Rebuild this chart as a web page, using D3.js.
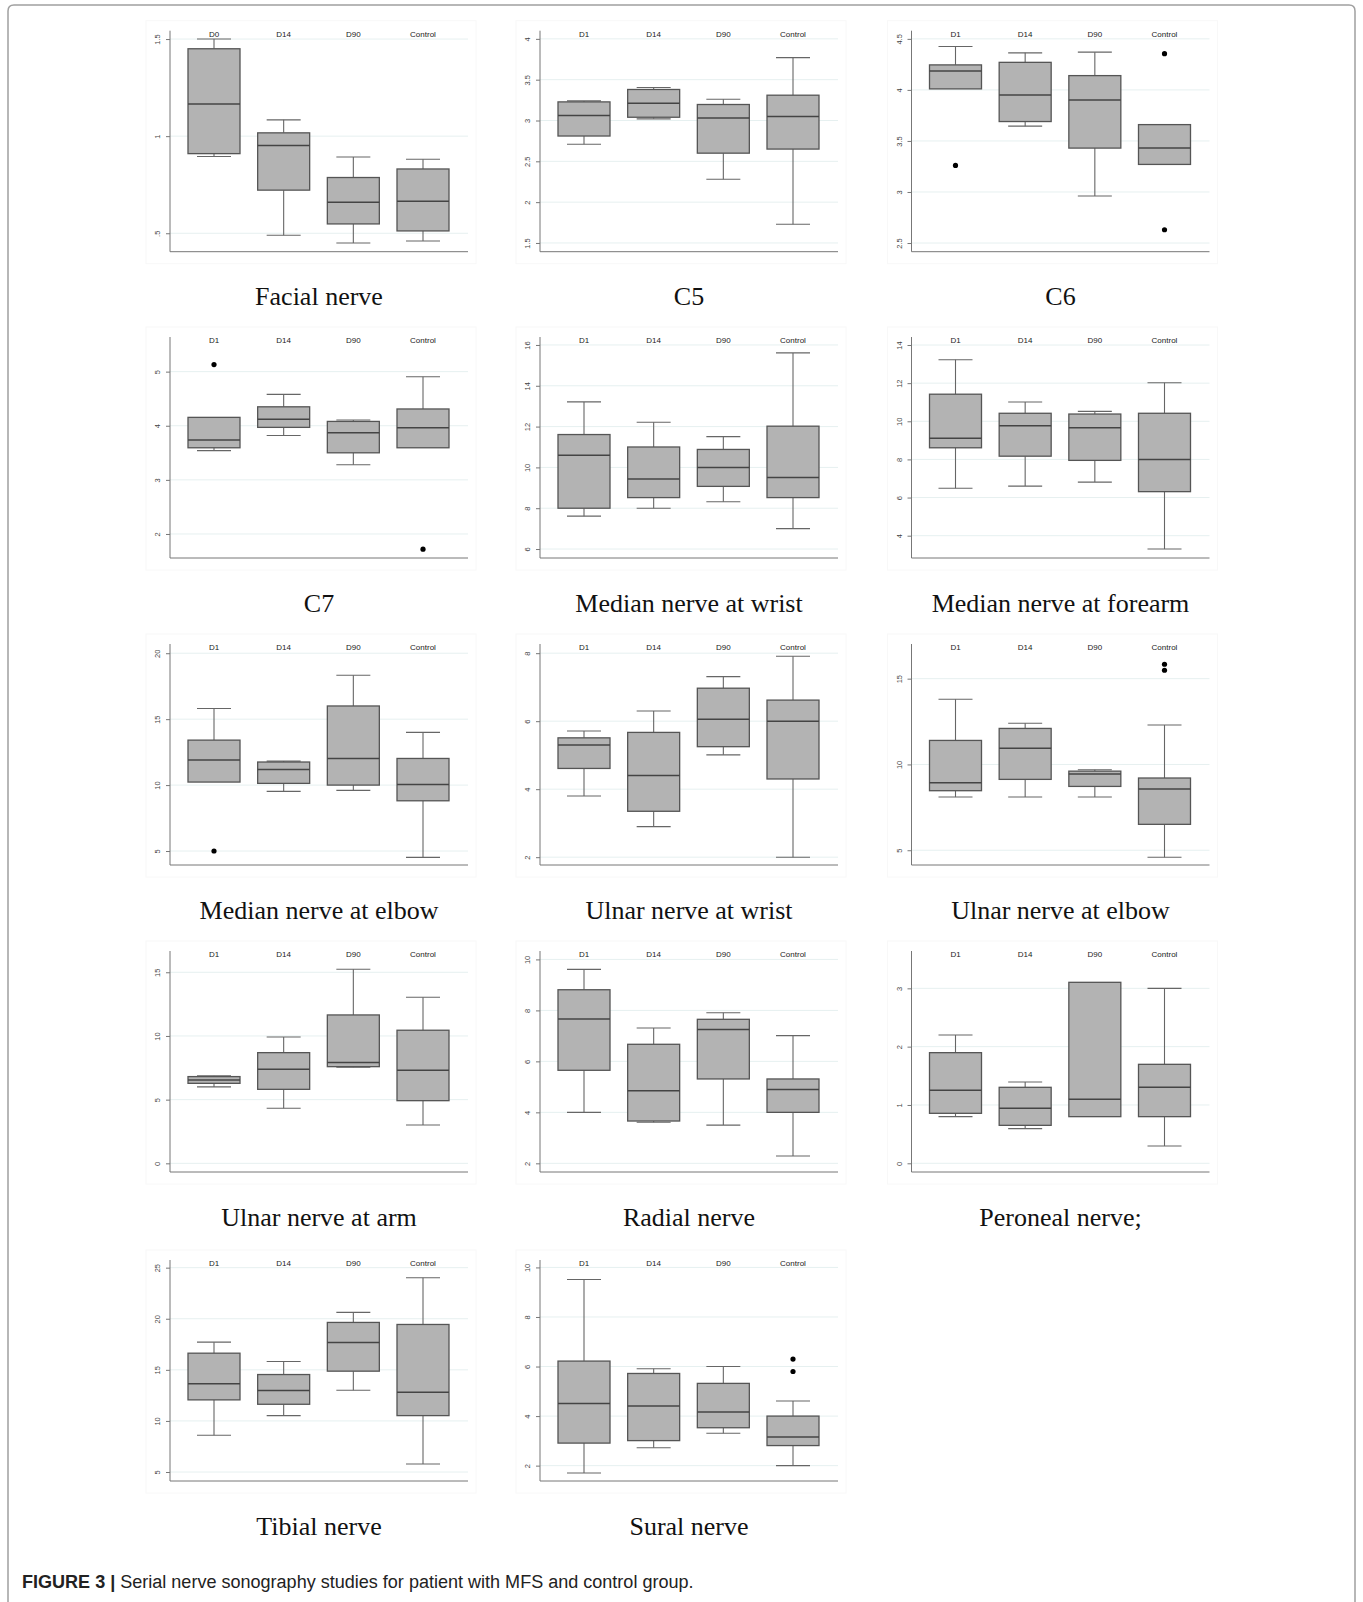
<!DOCTYPE html>
<html>
<head>
<meta charset="utf-8">
<script src="https://cdn.jsdelivr.net/npm/d3@7"></script>
<style>
  html, body { margin: 0; padding: 0; background: #ffffff; }
  svg { display: block; }
</style>
</head>
<body>
<svg id="chart" width="1363" height="1602"></svg>
<script>
// ---------------- DATA ----------------
// Each box: [lower whisker, Q1, median, Q3, upper whisker]
const groupsFacial = ["D0", "D14", "D90", "Control"];
const groups = ["D1", "D14", "D90", "Control"];

const panelTitles = [
  "Facial nerve", "C5", "C6",
  "C7", "Median nerve at wrist", "Median nerve at forearm",
  "Median nerve at elbow", "Ulnar nerve at wrist", "Ulnar nerve at elbow",
  "Ulnar nerve at arm", "Radial nerve", "Peroneal nerve;",
  "Tibial nerve", "Sural nerve"
];

const facialNerve = [[0.895, 0.91, 1.166, 1.45, 1.5], [0.49, 0.722, 0.952, 1.017, 1.084], [0.45, 0.548, 0.66, 0.787, 0.893], [0.46, 0.512, 0.665, 0.831, 0.881]];
const facialOutliers = [[], [], [], []];
const facialTicks = [0.5, 1, 1.5];

const c5Nerve = [[2.71, 2.81, 3.06, 3.228, 3.24], [3.02, 3.04, 3.21, 3.38, 3.405], [2.28, 2.60, 3.03, 3.196, 3.26], [1.73, 2.65, 3.05, 3.31, 3.77]];
const c5Outliers = [[], [], [], []];
const c5Ticks = [1.5, 2, 2.5, 3, 3.5, 4];

const c6Nerve = [[4.01, 4.01, 4.186, 4.245, 4.425], [3.645, 3.69, 3.95, 4.27, 4.363], [2.96, 3.43, 3.90, 4.14, 4.37], [3.27, 3.27, 3.43, 3.66, 3.66]];
const c6Outliers = [[3.26], [], [], [4.355, 2.63]];
const c6Ticks = [2.5, 3, 3.5, 4, 4.5];

const c7Nerve = [[3.54, 3.593, 3.735, 4.155, 4.155], [3.82, 3.97, 4.12, 4.35, 4.58], [3.28, 3.50, 3.87, 4.08, 4.105], [3.593, 3.593, 3.963, 4.31, 4.905]];
const c7Outliers = [[5.13], [], [], [1.72]];
const c7Ticks = [2, 3, 4, 5];

const medianWrist = [[7.61, 8.0, 10.6, 11.61, 13.21], [8.0, 8.52, 9.43, 11.0, 12.21], [8.32, 9.07, 10.0, 10.88, 11.51], [7.0, 8.52, 9.5, 12.02, 15.61]];
const medianWristOutliers = [[], [], [], []];
const medianWristTicks = [6, 8, 10, 12, 14, 16];

const medianForearm = [[6.49, 8.61, 9.11, 11.42, 13.23], [6.6, 8.17, 9.77, 10.42, 11.01], [6.81, 7.95, 9.66, 10.38, 10.52], [3.3, 6.31, 8.0, 10.42, 12.02]];
const medianForearmOutliers = [[], [], [], []];
const medianForearmTicks = [4, 6, 8, 10, 12, 14];

const medianElbow = [[10.23, 10.23, 11.9, 13.41, 15.81], [9.52, 10.13, 11.19, 11.75, 11.82], [9.6, 10.0, 12.02, 16.0, 18.33], [4.52, 8.81, 10.05, 12.02, 14.0]];
const medianElbowOutliers = [[5.0], [], [], []];
const medianElbowTicks = [5, 10, 15, 20];

const ulnarWrist = [[3.80, 4.61, 5.30, 5.51, 5.71], [2.90, 3.35, 4.40, 5.67, 6.30], [5.01, 5.25, 6.06, 6.97, 7.31], [2.0, 4.30, 6.0, 6.62, 7.91]];
const ulnarWristOutliers = [[], [], [], []];
const ulnarWristTicks = [2, 4, 6, 8];

const ulnarElbow = [[8.1, 8.47, 8.93, 11.4, 13.8], [8.1, 9.13, 10.95, 12.1, 12.4], [8.1, 8.72, 9.44, 9.61, 9.69], [4.59, 6.51, 8.57, 9.21, 12.3]];
const ulnarElbowOutliers = [[], [], [], [15.84, 15.49]];
const ulnarElbowTicks = [5, 10, 15];

const ulnarArm = [[6.0, 6.28, 6.54, 6.81, 6.88], [4.32, 5.81, 7.38, 8.69, 9.92], [7.54, 7.59, 7.91, 11.65, 15.24], [3.01, 4.92, 7.3, 10.45, 13.04]];
const ulnarArmOutliers = [[], [], [], []];
const ulnarArmTicks = [0, 5, 10, 15];

const radialNerve = [[4.0, 5.65, 7.66, 8.81, 9.61], [3.61, 3.66, 4.85, 6.67, 7.31], [3.50, 5.31, 7.25, 7.65, 7.91], [2.29, 4.0, 4.90, 5.31, 7.01]];
const radialOutliers = [[], [], [], []];
const radialTicks = [2, 4, 6, 8, 10];

const peronealNerve = [[0.8, 0.857, 1.251, 1.897, 2.2], [0.594, 0.651, 0.943, 1.303, 1.394], [0.8, 0.8, 1.097, 3.103, 3.103], [0.297, 0.8, 1.303, 1.697, 3.0]];
const peronealOutliers = [[], [], [], []];
const peronealTicks = [0, 1, 2, 3];

const tibialNerve = [[8.6, 12.06, 13.63, 16.63, 17.71], [10.52, 11.63, 12.97, 14.54, 15.82], [13.0, 14.87, 17.68, 19.64, 20.62], [5.78, 10.52, 12.81, 19.44, 24.02]];
const tibialOutliers = [[], [], [], []];
const tibialTicks = [5, 10, 15, 20, 25];

const suralNerve = [[1.70, 2.91, 4.51, 6.22, 9.51], [2.72, 3.01, 4.41, 5.72, 5.91], [3.31, 3.53, 4.16, 5.32, 6.0], [2.0, 2.81, 3.16, 4.0, 4.61]];
const suralOutliers = [[], [], [], [6.30, 5.80]];
const suralTicks = [2, 4, 6, 8, 10];

const captionBold = "FIGURE 3 |";
const captionText = " Serial nerve sonography studies for patient with MFS and control group.";

// ---------------- LAYOUT ----------------
const colX = [170, 540, 911.5];            // y-axis x position per column
const rowBottom = [251.7, 558, 865, 1172, 1481]; // x-axis y position per row
const plotW = 298, plotH = 221;

const panels = [
  { stats: facialNerve, out: facialOutliers, ticks: facialTicks, cats: groupsFacial, domain: [0.405, 1.543] },
  { stats: c5Nerve, out: c5Outliers, ticks: c5Ticks, cats: groups, domain: [1.393, 4.10] },
  { stats: c6Nerve, out: c6Outliers, ticks: c6Ticks, cats: groups, domain: [2.415, 4.58] },
  { stats: c7Nerve, out: c7Outliers, ticks: c7Ticks, cats: groups, domain: [1.556, 5.64] },
  { stats: medianWrist, out: medianWristOutliers, ticks: medianWristTicks, cats: groups, domain: [5.56, 16.39] },
  { stats: medianForearm, out: medianForearmOutliers, ticks: medianForearmTicks, cats: groups, domain: [2.83, 14.42] },
  { stats: medianElbow, out: medianElbowOutliers, ticks: medianElbowTicks, cats: groups, domain: [3.94, 20.7] },
  { stats: ulnarWrist, out: ulnarWristOutliers, ticks: ulnarWristTicks, cats: groups, domain: [1.77, 8.27] },
  { stats: ulnarElbow, out: ulnarElbowOutliers, ticks: ulnarElbowTicks, cats: groups, domain: [4.14, 17.02] },
  { stats: ulnarArm, out: ulnarArmOutliers, ticks: ulnarArmTicks, cats: groups, domain: [-0.68, 16.67] },
  { stats: radialNerve, out: radialOutliers, ticks: radialTicks, cats: groups, domain: [1.66, 10.33] },
  { stats: peronealNerve, out: peronealOutliers, ticks: peronealTicks, cats: groups, domain: [-0.149, 3.64] },
  { stats: tibialNerve, out: tibialOutliers, ticks: tibialTicks, cats: groups, domain: [4.12, 25.75] },
  { stats: suralNerve, out: suralOutliers, ticks: suralTicks, cats: groups, domain: [1.38, 10.30] }
];

const boxW = 52, capW = 34;
const fmtTick = v => d3.format("")(v).replace(/^0\./, ".").replace(/^-0\./, "-.");

const svg = d3.select("#chart");

// outer figure frame (open at bottom)
svg.append("path")
  .attr("d", "M8,1610 L8,11 Q8,5 14,5 L1349,5 Q1355,5 1355,11 L1355,1610")
  .attr("fill", "none").attr("stroke", "#a0a0a0").attr("stroke-width", 1.5);

panels.forEach((p, i) => {
  const col = i % 3, row = Math.floor(i / 3);
  const ax = colX[col], B = rowBottom[row], T = B - plotH;
  const g = svg.append("g");

  const y = d3.scaleLinear().domain(p.domain).range([B, T]);
  const x = d3.scalePoint().domain(p.cats).range([ax + 44, ax + 253]);

  // very faint graph region border
  g.append("rect").attr("x", ax - 24).attr("y", T - 10).attr("width", plotW + 32).attr("height", plotH + 22)
    .attr("fill", "none").attr("stroke", "#f8f8f8").attr("stroke-width", 1);

  // gridlines
  g.selectAll("line.grid").data(p.ticks).join("line")
    .attr("x1", ax).attr("x2", ax + plotW)
    .attr("y1", d => y(d)).attr("y2", d => y(d))
    .attr("stroke", "#e6f0f0").attr("stroke-width", 1);

  // y axis
  const yAxis = d3.axisLeft(y).tickValues(p.ticks).tickSize(4).tickPadding(3).tickFormat(fmtTick);
  const ya = g.append("g").attr("transform", `translate(${ax},0)`).call(yAxis);
  ya.select(".domain").attr("d", `M-0,${T}V${B}`).attr("stroke", "#777").attr("stroke-width", 1);
  ya.selectAll(".tick line").attr("stroke", "#777");
  ya.selectAll(".tick text")
    .attr("transform", "rotate(-90)")
    .attr("x", 0).attr("y", -10).attr("dy", 0)
    .attr("text-anchor", "middle")
    .attr("font-family", "Liberation Sans, Arial, sans-serif")
    .attr("font-size", 7.5).attr("fill", "#444");
  ya.attr("font-size", null).attr("font-family", null);

  // x axis line
  g.append("line").attr("x1", ax).attr("x2", ax + plotW).attr("y1", B).attr("y2", B)
    .attr("stroke", "#777").attr("stroke-width", 1);

  // category labels at top
  g.selectAll("text.cat").data(p.cats).join("text")
    .attr("x", d => x(d)).attr("y", T + 6)
    .attr("text-anchor", "middle")
    .attr("font-family", "Liberation Sans, Arial, sans-serif")
    .attr("font-size", 8).attr("fill", "#222")
    .text(d => d);

  const data = p.stats.map((s, k) => ({ cat: p.cats[k], s, out: p.out[k] }));
  const bx = g.selectAll("g.box").data(data).join("g");

  // whiskers
  bx.filter(d => d.s[0] < d.s[1]).append("line")
    .attr("x1", d => x(d.cat)).attr("x2", d => x(d.cat))
    .attr("y1", d => y(d.s[1])).attr("y2", d => y(d.s[0]))
    .attr("stroke", "#666").attr("stroke-width", 1.1);
  bx.filter(d => d.s[0] < d.s[1]).append("line")
    .attr("x1", d => x(d.cat) - capW / 2).attr("x2", d => x(d.cat) + capW / 2)
    .attr("y1", d => y(d.s[0])).attr("y2", d => y(d.s[0]))
    .attr("stroke", "#666").attr("stroke-width", 1.1);
  bx.filter(d => d.s[4] > d.s[3]).append("line")
    .attr("x1", d => x(d.cat)).attr("x2", d => x(d.cat))
    .attr("y1", d => y(d.s[3])).attr("y2", d => y(d.s[4]))
    .attr("stroke", "#666").attr("stroke-width", 1.1);
  bx.filter(d => d.s[4] > d.s[3]).append("line")
    .attr("x1", d => x(d.cat) - capW / 2).attr("x2", d => x(d.cat) + capW / 2)
    .attr("y1", d => y(d.s[4])).attr("y2", d => y(d.s[4]))
    .attr("stroke", "#666").attr("stroke-width", 1.1);

  // box
  bx.append("rect")
    .attr("x", d => x(d.cat) - boxW / 2).attr("width", boxW)
    .attr("y", d => y(d.s[3])).attr("height", d => y(d.s[1]) - y(d.s[3]))
    .attr("fill", "#b3b3b3").attr("stroke", "#555").attr("stroke-width", 1.3);

  // median
  bx.append("line")
    .attr("x1", d => x(d.cat) - boxW / 2).attr("x2", d => x(d.cat) + boxW / 2)
    .attr("y1", d => y(d.s[2])).attr("y2", d => y(d.s[2]))
    .attr("stroke", "#444").attr("stroke-width", 1.5);

  // outliers
  bx.selectAll("circle").data(d => d.out.map(v => ({ cat: d.cat, v }))).join("circle")
    .attr("cx", d => x(d.cat)).attr("cy", d => y(d.v)).attr("r", 2.6)
    .attr("fill", "#000");

  // title
  g.append("text")
    .attr("x", ax + plotW / 2).attr("y", B + 53.5)
    .attr("text-anchor", "middle")
    .attr("font-family", "Liberation Serif, 'Times New Roman', serif")
    .attr("font-size", 26).attr("fill", "#111")
    .text(panelTitles[i]);
});

// caption, sized so that it spans the same width as in the figure
const cap = svg.append("text")
  .attr("x", 22).attr("y", 1588)
  .attr("font-family", "Liberation Sans, Arial, sans-serif")
  .attr("font-size", 16).attr("fill", "#222");
cap.append("tspan").attr("font-weight", "bold").text(captionBold);
cap.append("tspan").text(captionText);
const capLen = cap.node().getComputedTextLength();
const targetLen = 672;
if (capLen > 0) cap.attr("font-size", (16 * targetLen / capLen).toFixed(2));
</script>
</body>
</html>
